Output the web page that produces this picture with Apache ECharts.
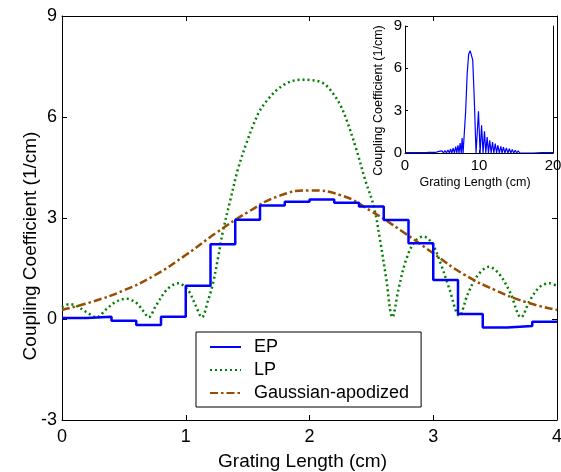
<!DOCTYPE html>
<html>
<head>
<meta charset="utf-8">
<script src="https://cdn.jsdelivr.net/npm/echarts@6/dist/echarts.min.js"></script>
<style>
    html, body { margin: 0; padding: 0; background: #fff; }
    #chart { width: 561px; height: 472px; }
</style>
</head>
<body>
<div id="chart"></div>
<script>
/* ===== 数据 ===== */
// EP：分段常数，每段 0.2 cm，最后一个值重复到 x=4
const epX = [0, 0.2, 0.4, 0.6, 0.8, 1.0, 1.2, 1.4, 1.6, 1.8, 2.0, 2.2, 2.4, 2.6, 2.8, 3.0, 3.2, 3.4, 3.6, 3.8, 4.0];
const epY = [0.03, 0.07, -0.05, -0.18, 0.07, 0.99, 2.22, 2.95, 3.37, 3.48, 3.55, 3.45, 3.34, 2.94, 2.25, 1.16, 0.15, -0.25, -0.21, -0.08, -0.08];

// LP
const lpX = [0, 0.06, 0.12, 0.2, 0.28, 0.36, 0.44, 0.52, 0.6, 0.66, 0.7, 0.76, 0.85, 0.94, 1.02, 1.08, 1.13,
    1.18, 1.22, 1.26, 1.3, 1.36, 1.42, 1.49, 1.55, 1.6, 1.67, 1.735, 1.8, 1.87, 1.95, 2.0, 2.085, 2.14, 2.19,
    2.25, 2.3, 2.38, 2.45, 2.52, 2.57, 2.62, 2.67, 2.72, 2.78, 2.85, 2.92, 2.99, 3.06, 3.13, 3.21, 3.28, 3.36,
    3.45, 3.53, 3.62, 3.71, 3.78, 3.86, 3.94, 4.0];
const lpY = [0.35, 0.44, 0.38, 0.2, 0.05, 0.3, 0.52, 0.6, 0.48, 0.22, 0.05, 0.4, 0.88, 1.06, 0.85, 0.4, 0.05,
    0.55, 1.06, 1.8, 2.6, 3.53, 4.43, 5.22, 5.8, 6.2, 6.55, 6.8, 6.97, 7.08, 7.11, 7.1, 7.05, 6.92, 6.7,
    6.35, 5.91, 5.02, 4.13, 3.34, 2.35, 1.2, 0.05, 0.9, 1.75, 2.3, 2.45, 2.25, 1.65, 0.9, 0.1, 0.75, 1.3,
    1.55, 1.35, 0.8, 0.05, 0.55, 0.95, 1.06, 0.98];

// Gaussian-apodized
const gaX = [0, 0.25, 0.5, 0.75, 1.0, 1.25, 1.5, 1.75, 2.0, 2.25, 2.5, 2.75, 3.0, 3.25, 3.5, 3.75, 4.0];
const gaY = [0.27, 0.52, 0.85, 1.3, 1.9, 2.57, 3.17, 3.65, 3.82, 3.68, 3.2, 2.6, 1.95, 1.32, 0.86, 0.5, 0.27];

// 插图（0–20 cm）
const insetX = [0, 1.5, 3, 4.2, 4.4, 4.6, 4.8, 5.0, 5.2, 5.4, 5.6, 5.8, 6.0, 6.15, 6.33, 6.5, 6.68, 6.85, 7.0,
    7.15, 7.3, 7.45, 7.6, 7.72, 7.85, 8.0, 8.2, 8.4, 8.6, 8.8, 9.0, 9.15, 9.35, 9.6, 9.93, 10.15, 10.35, 10.55,
    10.74, 10.92, 11.1, 11.28, 11.45, 11.64, 11.83, 12.0, 12.2, 12.38, 12.55, 12.75, 12.95, 13.12, 13.3, 13.5,
    13.7, 13.9, 14.1, 14.3, 14.5, 14.7, 14.9, 15.1, 15.3, 15.5, 15.7, 15.9, 16.1, 16.3, 16.5, 16.75, 17.0,
    17.3, 18.5, 20];
const insetY = [0.02, 0.03, 0.04, 0.05, 0, 0.12, 0, 0.15, 0, 0.18, 0, 0.22, 0, 0.28, 0, 0.35, 0, 0.45, 0,
    0.55, 0, 0.7, 0, 1.06, 0, 0, 3.0, 5.6, 7.0, 7.25, 7.2, 6.6, 4.0, 0, 2.95, 0, 1.96, 0,
    1.54, 0, 1.13, 0, 0.9, 0, 0.78, 0, 0.66, 0, 0.54, 0, 0.47, 0, 0.42, 0,
    0.36, 0, 0.3, 0, 0.25, 0, 0.2, 0, 0.16, 0, 0.12, 0, 0.09, 0, 0.07, 0, 0.05,
    0, 0.02, 0.02];

// 刻度
const mainXTicks = { min: 0, max: 4, interval: 1 };
const mainYTicks = { min: -3, max: 9, interval: 3 };
const insetXTicks = { min: 0, max: 20, interval: 10 };
const insetYTicks = { min: 0, max: 9, interval: 3 };

/* ===== 辅助 ===== */
const FONT = "Liberation Sans";
const zip = (xs, ys) => xs.map((x, i) => [x, ys[i]]);

function boxAxis(gridIndex, ticks, position, opts = {}) {
    return Object.assign({
        type: "value",
        gridIndex,
        position,
        min: ticks.min,
        max: ticks.max,
        interval: ticks.interval,
        nameMoveOverlap: false,
        axisLine: { show: true, onZero: false, lineStyle: { color: "#000", width: 1 } },
        axisTick: { show: true, inside: true, length: 5, lineStyle: { color: "#000" } },
        splitLine: { show: false },
        axisLabel: { show: false },
    }, opts);
}

/* ===== 图表 ===== */
const chart = echarts.init(document.getElementById("chart"));

const option = {
    animation: false,
    backgroundColor: "#fff",
    textStyle: { fontFamily: FONT },
    grid: [
        { left: 62, top: 16, width: 495, height: 404, outerBoundsMode: "none" },
        {
            left: 405, top: 26, width: 148, height: 127, outerBoundsMode: "none",
            show: true, backgroundColor: "#fff", borderWidth: 0, z: 5,
        },
    ],
    xAxis: [
        boxAxis(0, mainXTicks, "bottom", {
            axisLabel: { show: true, color: "#000", fontSize: 18, margin: 8, fontFamily: FONT },
            name: "Grating Length (cm)",
            nameLocation: "middle",
            nameGap: 32,
            nameTextStyle: { color: "#000", fontSize: 19, fontFamily: FONT, padding: [0, 14, 0, 0] },
        }),
        boxAxis(0, mainXTicks, "top"),
        boxAxis(1, insetXTicks, "bottom", {
            z: 6,
            axisTick: { show: true, inside: true, length: 3, lineStyle: { color: "#000" } },
            axisLabel: { show: true, color: "#000", fontSize: 15, margin: 5, fontFamily: FONT },
            name: "Grating Length (cm)",
            nameLocation: "middle",
            nameGap: 23,
            nameTextStyle: { color: "#000", fontSize: 12.5, fontFamily: FONT, padding: [0, 8, 0, 0] },
        }),
    ],
    yAxis: [
        boxAxis(0, mainYTicks, "left", {
            axisLabel: { show: true, color: "#000", fontSize: 18, margin: 5, fontFamily: FONT },
            name: "Coupling Coefficient (1/cm)",
            nameLocation: "middle",
            nameGap: 22,
            nameTextStyle: { color: "#000", fontSize: 19, fontFamily: FONT, padding: [0, 56, 0, 0] },
        }),
        boxAxis(0, mainYTicks, "right"),
        boxAxis(1, insetYTicks, "left", {
            z: 6,
            axisTick: { show: true, inside: true, length: 3, lineStyle: { color: "#000" } },
            axisLabel: { show: true, color: "#000", fontSize: 15, margin: 3, fontFamily: FONT },
            name: "Coupling Coefficient (1/cm)",
            nameLocation: "middle",
            nameGap: 20,
            nameTextStyle: { color: "#000", fontSize: 12.5, fontFamily: FONT, padding: [0, 22, 0, 0] },
        }),
        boxAxis(1, insetYTicks, "right", { z: 6, axisTick: { show: false } }),
    ],
    legend: {
        left: 196,
        top: 332,
        orient: "vertical",
        backgroundColor: "#fff",
        borderColor: "#000",
        borderWidth: 1,
        borderRadius: 0,
        padding: [6, 12, 5, 13],
        itemWidth: 31,
        itemHeight: 14,
        itemGap: 5,
        itemStyle: { opacity: 0 },
        textStyle: { color: "#000", fontSize: 18, fontFamily: FONT, padding: [0, 0, 0, 8] },
        data: ["EP", "LP", "Gaussian-apodized"],
    },
    series: [
        {
            name: "EP",
            type: "line",
            xAxisIndex: 0, yAxisIndex: 0,
            step: "end",
            symbol: "none",
            data: zip(epX, epY),
            lineStyle: { color: "#0000ff", width: 2.5 },
            itemStyle: { color: "#0000ff" },
            z: 3,
        },
        {
            name: "LP",
            type: "line",
            xAxisIndex: 0, yAxisIndex: 0,
            smooth: 0.35,
            symbol: "none",
            data: zip(lpX, lpY),
            lineStyle: { color: "#008000", width: 2.5, type: [2, 3] },
            itemStyle: { color: "#008000" },
            z: 2,
        },
        {
            name: "Gaussian-apodized",
            type: "line",
            xAxisIndex: 0, yAxisIndex: 0,
            smooth: true,
            symbol: "none",
            data: zip(gaX, gaY),
            lineStyle: { color: "#994d00", width: 2.5, type: [8, 3, 2.5, 3] },
            itemStyle: { color: "#994d00" },
            z: 2,
        },
        {
            name: "inset",
            type: "line",
            xAxisIndex: 2, yAxisIndex: 2,
            symbol: "none",
            data: zip(insetX, insetY),
            lineStyle: { color: "#0000ff", width: 1.2 },
            itemStyle: { color: "#0000ff" },
            z: 7,
        },
    ],
};

chart.setOption(option);
</script>
</body>
</html>
